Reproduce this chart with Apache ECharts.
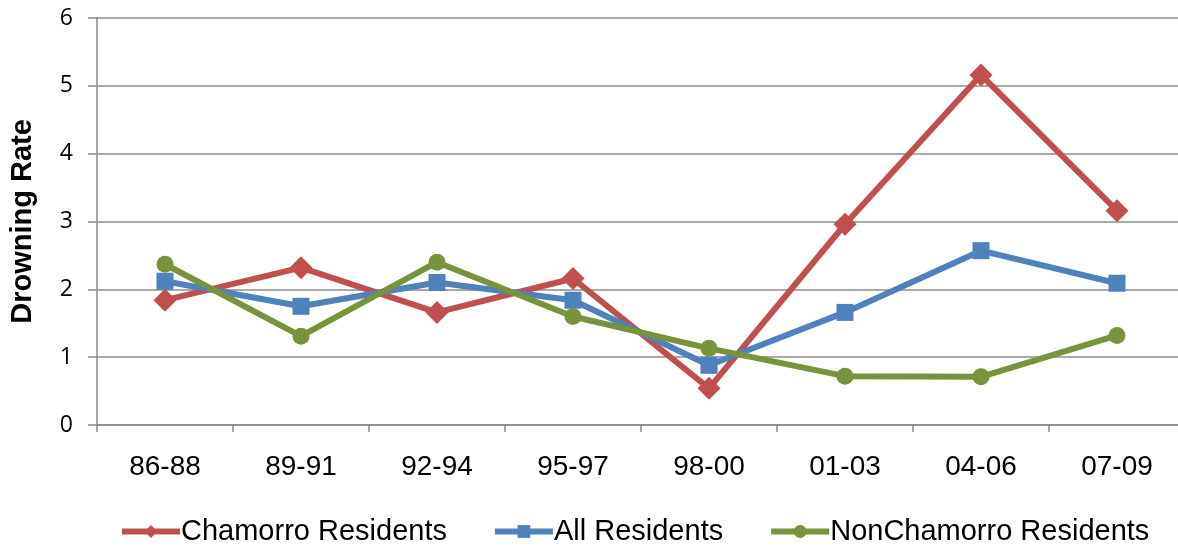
<!DOCTYPE html>
<html><head><meta charset="utf-8">
<script src="https://cdn.jsdelivr.net/npm/echarts@6/dist/echarts.min.js"></script>
<style>html,body{margin:0;padding:0;background:#fff;overflow:hidden;width:1178px;height:546px}#c{width:1186px;height:546px}</style>
</head><body><div id="c"></div>
<script>
const categories = ['86-88','89-91','92-94','95-97','98-00','01-03','04-06','07-09'];
const chamorro = [1.84, 2.32, 1.66, 2.16, 0.54, 2.96, 5.16, 3.16];
const allRes = [2.12, 1.75, 2.10, 1.84, 0.88, 1.66, 2.57, 2.09];
const nonChamorro = [2.37, 1.31, 2.40, 1.60, 1.13, 0.72, 0.71, 1.32];
const seriesNames = ['Chamorro Residents','All Residents','NonChamorro Residents'];

const chart = echarts.init(document.getElementById('c'));
const font = 'Arial, "Liberation Sans", sans-serif';
function mk(name, data, color, symbol, size) {
  return {name, type:'line', data, symbol, symbolSize:size, lineStyle:{width:6,color},
    itemStyle:{color}, animation:false};
}
chart.setOption({
  animation:false,
  grid:{left:95, right:1, top:18, bottom:121},
  legend:{top:512, left:114, itemWidth:58, itemHeight:16, itemGap:45,
    lineStyle:{width:6},
    textStyle:{fontFamily:font, fontSize:29, color:'#000', padding:[0,0,0,-4]},
    data:seriesNames},
  xAxis:{type:'category', data:categories, boundaryGap:true,
    axisLine:{lineStyle:{color:'#888', width:1.5}},
    axisTick:{show:true, length:7, lineStyle:{color:'#888', width:1.5}},
    axisLabel:{fontFamily:font, fontSize:28, color:'#000', margin:28}},
  yAxis:{type:'value', min:0, max:6, interval:1,
    name:'Drowning Rate', nameLocation:'middle', nameGap:60, nameRotate:90,
    nameTextStyle:{fontFamily:font, fontSize:29, fontWeight:'bold', color:'#000'},
    axisLine:{show:true, lineStyle:{color:'#888', width:1.5}},
    axisTick:{show:true, length:9, lineStyle:{color:'#888', width:1.5}},
    splitLine:{lineStyle:{color:'#8c8c8c', width:1.5}},
    axisLabel:{fontFamily:'"Open Sans", sans-serif', fontSize:23, color:'#000', margin:24}},
  series:[
    mk(seriesNames[0], chamorro, '#C0504D', 'diamond', 23),
    mk(seriesNames[1], allRes, '#4F81BD', 'rect', 17),
    mk(seriesNames[2], nonChamorro, '#77933C', 'circle', 17)
  ]
});
</script></body></html>
